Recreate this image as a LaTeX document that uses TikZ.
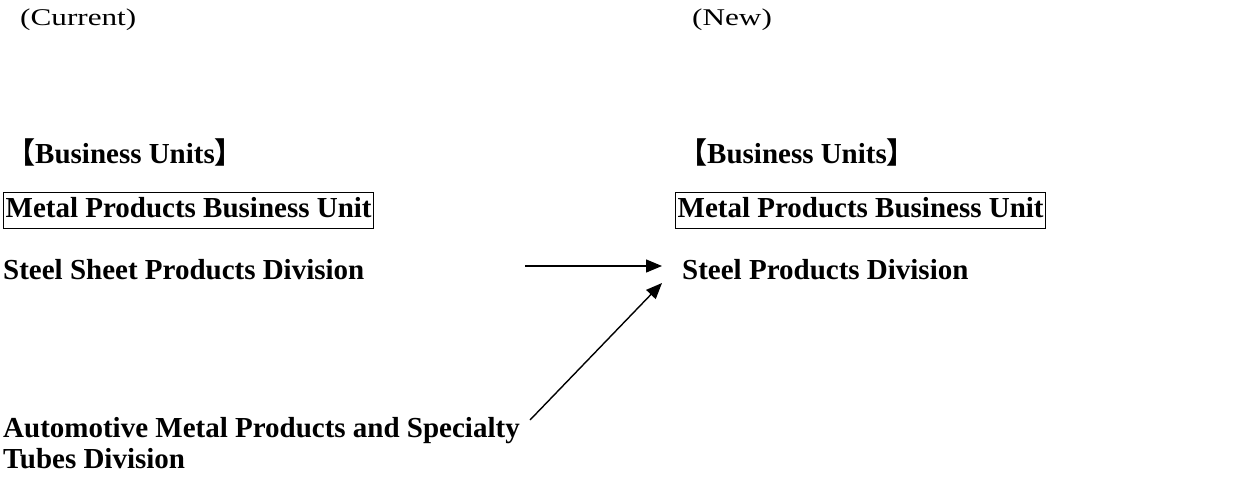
\documentclass[tikz,border=0pt]{standalone}
\usepackage{fontspec}
\setmainfont{Liberation Serif}
\newfontfamily\cjk{Noto Sans CJK JP}
\newfontfamily\hdrfont[FakeStretch=1.3]{Liberation Serif}
\usetikzlibrary{arrows.meta}
\tikzset{
  txt/.style={anchor=base west, inner sep=0pt, font=\fontsize{29}{31}\selectfont\bfseries},
  hdr/.style={anchor=base west, inner sep=0pt, font=\fontsize{24}{28}\hdrfont},
  unitbox/.style={anchor=west, draw, line width=1.3pt, inner xsep=2pt, inner ysep=5.5pt,
    text height=19.5pt, text depth=5.5pt, font=\fontsize{29}{28}\selectfont\bfseries},
  arr/.style={line width=1.4pt, -{Triangle[length=16pt,width=13pt]}}
}
\begin{document}
\begin{tikzpicture}[x=1pt,y=-1pt]
\useasboundingbox (0,0) rectangle (1245,477);
\node[hdr] (cur) at (20,25) {(Current)};
\node[hdr] (new) at (692,25) {(New)};
\node[txt] (bu1) at (6,163) {{\cjk 【}Business Units{\cjk 】}};
\node[txt] (bu2) at (678,163) {{\cjk 【}Business Units{\cjk 】}};
\node[unitbox] (mp1) at (3,210.5) {Metal Products Business Unit};
\node[unitbox] (mp2) at (675,210.5) {Metal Products Business Unit};
\node[txt] (ss) at (3,279) {Steel Sheet Products Division};
\node[txt] (sp) at (682,279) {Steel Products Division};
\node[txt, align=left] (am) at (3,468) {Automotive Metal Products and Specialty\\Tubes Division};
\coordinate (h0) at (525,266);
\coordinate (h1) at (662,266);
\coordinate (d0) at (530,420);
\coordinate (d1) at (662,283);
\draw[arr] (h0) -- (h1);
\draw[arr] (d0) -- (d1);
\end{tikzpicture}
\end{document}
